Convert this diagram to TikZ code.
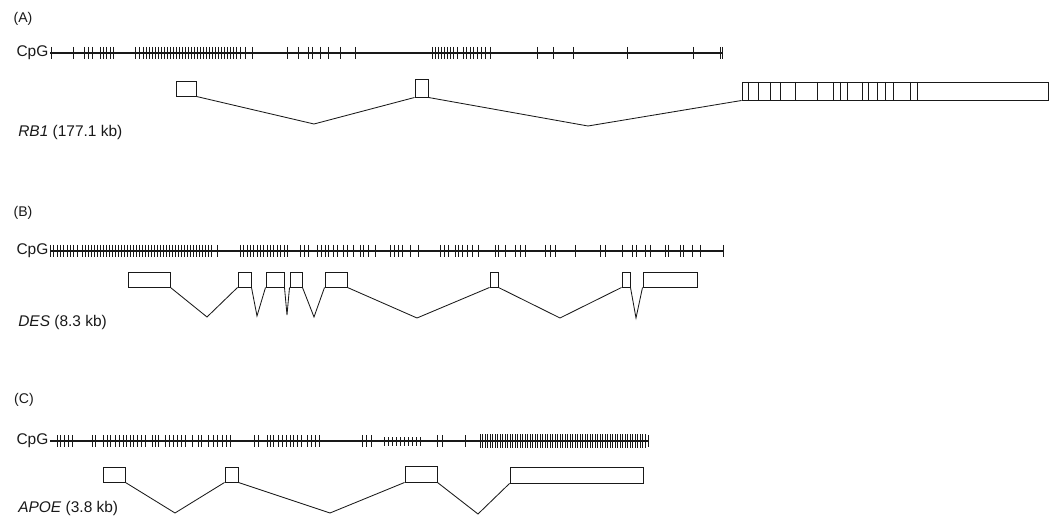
\documentclass[tikz,border=0pt]{standalone}
\usepackage{fontspec}
\setmainfont{Liberation Sans}
\usetikzlibrary{
  fit,
  positioning
}
\definecolor{inkcolor}{RGB}{25, 25, 25}
\tikzset{
panellabel/.style={
  font=\fontsize{10}{12}\selectfont,
  text=inkcolor,
  inner sep=0pt
},
cpglabel/.style={
  font=\fontsize{11}{13}\selectfont,
  text=inkcolor,
  inner sep=1pt,
  anchor=east
},
genelabel/.style={
  font=\fontsize{11}{13}\selectfont,
  text=inkcolor,
  inner sep=0pt,
  anchor=west
},
cpgline/.style={
  draw=inkcolor,
  line width=0.8pt
},
cpgtick/.style={
  draw=inkcolor,
  line width=0.45pt
},
exon/.style={
  rectangle,
  draw=inkcolor,
  line width=0.7pt,
  inner sep=0pt
},
intron/.style={
  draw=inkcolor,
  line width=0.6pt
}
}

\begin{document}
\begin{tikzpicture}[x=0.025cm, y=-0.025cm]
  \useasboundingbox (0,0) rectangle (1053,524);

  % ---------------- (A) RB1
  \node[panellabel] (labA) at (23,19) {(A)};
  \node[cpglabel] (cpgA) at (50,53) {CpG};
  \coordinate (cpgAend) at (722,53);
  \draw[cpgline] (cpgA.east) -- (cpgAend);
  \foreach \x in {51,73,84,88,92,100,103,106,110,113,135,139,240,245,252,287,298,308,312,320,328,340,355,432,435,438,441,444,447,450,453,457,463,466,470,473,477,481,485,490,537,553,573,627,693,720,722}
    \draw[cpgtick] (\x,47) -- (\x,59);
  \foreach \x in {143,146,...,236}
    \draw[cpgtick] (\x,47) -- (\x,59);

  \node[exon, fit={(176,81) (196,96)}] (a1) {};
  \node[exon, fit={(415,79) (428,97)}] (a2) {};
  \node[exon, fit={(742,82) (1048,100)}] (a3) {};
  \foreach \x in {748,758,770,780,795,817,833,840,847,862,868,877,885,893,910,917}
    \draw[intron] (\x,82) -- (\x,100);

  \coordinate (va1) at (314,124);
  \coordinate (va2) at (588,126);
  \draw[intron] (a1.south east) -- (va1) -- (a2.south west);
  \draw[intron] (a2.south east) -- (va2) -- (a3.south west);

  \node[genelabel] (geneA) at (18,132) {\textit{RB1} (177.1 kb)};

  % ---------------- (B) DES
  \node[panellabel] (labB) at (23,213) {(B)};
  \node[cpglabel] (cpgB) at (50,251) {CpG};
  \coordinate (cpgBend) at (723,251);
  \draw[cpgline] (cpgB.east) -- (cpgBend);
  \foreach \x in {50,53,57,60,63,67,70,73,77,82,85,88,91,94,217,240,243,247,250,253,257,260,263,267,270,273,277,280,284,287,300,304,308,317,321,325,328,333,337,343,347,353,360,363,368,375,390,394,398,402,410,418,440,444,448,455,458,462,467,472,478,495,498,505,515,520,525,545,550,555,575,600,605,622,632,636,645,650,665,668,680,683,692,700,723}
    \draw[cpgtick] (\x,245) -- (\x,257);
  \foreach \x in {97,100,...,213}
    \draw[cpgtick] (\x,245) -- (\x,257);

  \node[exon, fit={(128,272) (170,287)}] (b1) {};
  \node[exon, fit={(238,272) (251,287)}] (b2) {};
  \node[exon, fit={(266,272) (284,287)}] (b3) {};
  \node[exon, fit={(290,272) (302,287)}] (b4) {};
  \node[exon, fit={(325,272) (347,287)}] (b5) {};
  \node[exon, fit={(490,272) (498,287)}] (b6) {};
  \node[exon, fit={(622,272) (630,287)}] (b7) {};
  \node[exon, fit={(643,272) (697,287)}] (b8) {};

  \coordinate (vb1) at (207,317);
  \coordinate (vb2) at (257,316);
  \coordinate (vb3) at (287,315);
  \coordinate (vb4) at (314,317);
  \coordinate (vb5) at (417,318);
  \coordinate (vb6) at (560,318);
  \coordinate (vb7) at (636,318);
  \draw[intron] (b1.south east) -- (vb1) -- (b2.south west);
  \draw[intron] (b2.south east) -- (vb2) -- (b3.south west);
  \draw[intron] (b3.south east) -- (vb3) -- (b4.south west);
  \draw[intron] (b4.south east) -- (vb4) -- (b5.south west);
  \draw[intron] (b5.south east) -- (vb5) -- (b6.south west);
  \draw[intron] (b6.south east) -- (vb6) -- (b7.south west);
  \draw[intron] (b7.south east) -- (vb7) -- (b8.south west);

  \node[genelabel] (geneB) at (18,322) {\textit{DES} (8.3 kb)};

  % ---------------- (C) APOE
  \node[panellabel] (labC) at (24,400) {(C)};
  \node[cpglabel] (cpgC) at (50,441) {CpG};
  \coordinate (cpgCend) at (648,441);
  \draw[cpgline] (cpgC.east) -- (cpgCend);
  \foreach \x in {57,60,64,68,72,92,95,103,107,110,115,119,123,126,130,133,137,141,145,152,155,158,165,169,173,177,181,185,192,198,201,208,213,217,222,226,230,254,258,267,270,273,278,282,286,290,293,297,301,307,311,315,319,362,366,371,437,442,465,648}
    \draw[cpgtick] (\x,435) -- (\x,447);
  \foreach \x in {384,388,...,420}
    \draw[cpgtick] (\x,437) -- (\x,446);
  \foreach \x in {480,482.5,...,646}
    \draw[cpgtick] (\x,434) -- (\x,448);

  \node[exon, fit={(103,467) (125,482)}] (c1) {};
  \node[exon, fit={(225,467) (238,482)}] (c2) {};
  \node[exon, fit={(405,466) (437,482)}] (c3) {};
  \node[exon, fit={(510,467) (643,483)}] (c4) {};

  \coordinate (vc1) at (175,513);
  \coordinate (vc2) at (330,513);
  \coordinate (vc3) at (478,514);
  \draw[intron] (c1.south east) -- (vc1) -- (c2.south west);
  \draw[intron] (c2.south east) -- (vc2) -- (c3.south west);
  \draw[intron] (c3.south east) -- (vc3) -- (c4.south west);

  \node[genelabel] (geneC) at (18,508) {\textit{APOE} (3.8 kb)};

\end{tikzpicture}
\end{document}
